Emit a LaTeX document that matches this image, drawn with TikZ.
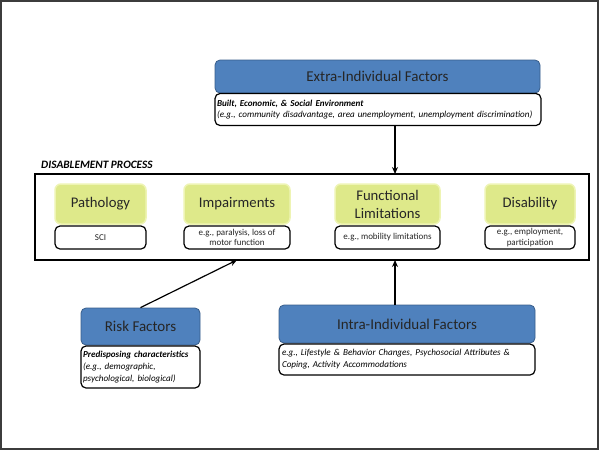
\documentclass[tikz,border=0pt]{standalone}
\usepackage{fontspec}
\setmainfont{Carlito}
\usetikzlibrary{arrows.meta}
\definecolor{bluefill}{RGB}{79,129,189}
\definecolor{blueline}{RGB}{56,93,138}
\definecolor{yelfill}{RGB}{222,233,138}
\definecolor{yelline}{RGB}{238,244,180}
\definecolor{framec}{RGB}{60,60,60}
\tikzset{
  bluebox/.style={draw=blueline, line width=0.8pt, fill=bluefill, rounded corners=5pt, inner sep=0pt, font=\fontsize{15}{17}\selectfont, text=black!85},
  whitebox/.style={draw=black, line width=1.2pt, fill=white, rounded corners=5pt, inner sep=0pt},
  yelbox/.style={draw=yelline, line width=1.5pt, fill=yelfill, rounded corners=6pt, inner sep=0pt, font=\fontsize{14.7}{18}\selectfont, align=center, text=black!85},
  smalltext/.style={font=\fontsize{9}{10.5}\selectfont, align=center, text=black!85},
  arr/.style={-{Stealth[length=7pt,width=6pt]}, line width=1.2pt, draw=black}
}
\begin{document}
\begin{tikzpicture}[x=1pt,y=-1pt]
\useasboundingbox (0,0) rectangle (600,450);
\draw[framec, line width=2pt] (1,1) rectangle (598,449);

% Extra-individual
\node[bluebox, minimum width=325pt, minimum height=33pt] (extra) at (377.5,76.5) {Extra-Individual Factors};
\node[whitebox, minimum width=326pt, minimum height=32pt, text width=322pt, align=left, font=\fontsize{9.1}{11.5}\selectfont] (extraw) at (378,109.5)
  {\textbf{\textit{Built, Economic, \& Social Environment}}\\ \textit{(e.g., community disadvantage, area unemployment, unemployment discrimination)}};

% Disablement process
\node[anchor=west, inner sep=0pt, font=\fontsize{11.3}{13}\selectfont\bfseries\itshape] (dplabel) at (41,165) {DISABLEMENT PROCESS};
\node[draw=black, line width=1.2pt, minimum width=554pt, minimum height=86pt, inner sep=0pt] (proc) at (312,217) {};

\node[yelbox, minimum width=91pt, minimum height=40pt] (path) at (100.5,204) {Pathology};
\node[whitebox, minimum width=91pt, minimum height=23pt, smalltext] (pathw) at (100.5,237.5) {SCI};

\node[yelbox, minimum width=106pt, minimum height=40pt] (imp) at (237,204) {Impairments};
\node[whitebox, minimum width=106pt, minimum height=23pt, smalltext] (impw) at (237,237.5) {e.g., paralysis, loss of\\motor function};

\node[yelbox, minimum width=105pt, minimum height=40pt] (func) at (387.5,204) {Functional\\Limitations};
\node[whitebox, minimum width=105pt, minimum height=23pt, smalltext] (funcw) at (387.5,237.5) {e.g., mobility limitations};

\node[yelbox, minimum width=90pt, minimum height=40pt] (dis) at (530,204) {Disability};
\node[whitebox, minimum width=90pt, minimum height=23pt, smalltext] (disw) at (530,237.5) {e.g., employment,\\participation};

% Risk factors
\node[bluebox, minimum width=119pt, minimum height=37pt] (risk) at (140.5,326.5) {Risk Factors};
\node[whitebox, minimum width=119pt, minimum height=42pt, text width=115pt, align=left, font=\fontsize{9.1}{12}\selectfont] (riskw) at (140.5,367)
  {\textbf{\textit{Predisposing characteristics}}\\ \textit{(e.g., demographic,}\\ \textit{psychological, biological)}};

% Intra-individual
\node[bluebox, minimum width=256pt, minimum height=38pt] (intra) at (407,324) {Intra-Individual Factors};
\node[whitebox, minimum width=256pt, minimum height=31pt, text width=250pt, align=left, font=\fontsize{9.1}{12}\selectfont] (intraw) at (407,359.5)
  {\textit{e.g., Lifestyle \& Behavior Changes, Psychosocial Attributes \&}\\ \textit{Coping, Activity Accommodations}};

% Connectors
\coordinate (ea) at (395,125.5);
\coordinate (eb) at (395,174);
\draw[arr] (ea) -- (eb);
\coordinate (ra) at (risk.north);
\coordinate (rb) at (237,260);
\draw[arr] (ra) -- (rb);
\coordinate (ia) at (395,305);
\coordinate (ib) at (395,260);
\draw[arr] (ia) -- (ib);
\end{tikzpicture}
\end{document}
